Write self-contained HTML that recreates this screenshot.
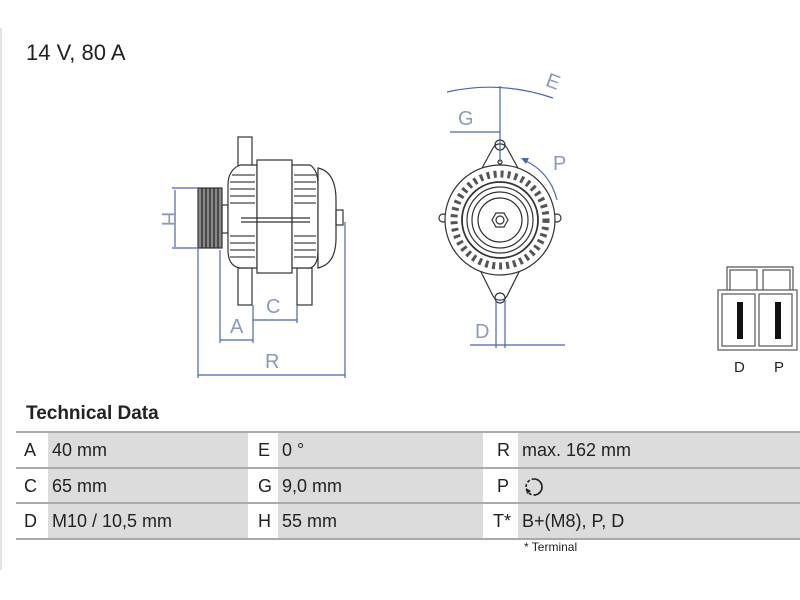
<!DOCTYPE html>
<html><head><meta charset="utf-8"><style>
body{margin:0;background:#fff;width:800px;height:600px;overflow:hidden;position:relative;font-family:"Liberation Sans",sans-serif;}
.t{position:absolute;color:#222;}
.row{position:absolute;left:16px;width:784px;height:34px;border-top:2px solid #aaa;}
.cell{position:absolute;top:0;height:34px;line-height:34px;font-size:18px;color:#222;}
.g{background:#dcdcdc;}
</style></head><body>
<div style="position:absolute;left:0;top:28px;width:2px;height:542px;background:#e4e4e4"></div>
<div class="t" style="left:26px;top:40px;font-size:22px;">14 V, 80 A</div>
<div class="t" style="left:26px;top:403px;font-size:19px;font-weight:bold;">Technical Data</div>

<div class="row" style="top:431px">
 <div class="cell" style="left:0;width:32px;padding-left:8px">A</div>
 <div class="cell g" style="left:32px;width:200px;padding-left:4px;box-sizing:border-box">40 mm</div>
 <div class="cell" style="left:232px;width:30px;padding-left:10px">E</div>
 <div class="cell g" style="left:262px;width:205px;padding-left:4px;box-sizing:border-box">0 °</div>
 <div class="cell" style="left:467px;width:35px;padding-left:14px">R</div>
 <div class="cell g" style="left:502px;width:282px;padding-left:4px;box-sizing:border-box">max. 162 mm</div>
</div>
<div class="row" style="top:467px">
 <div class="cell" style="left:0;padding-left:8px">C</div>
 <div class="cell g" style="left:32px;width:200px;padding-left:4px;box-sizing:border-box">65 mm</div>
 <div class="cell" style="left:232px;padding-left:10px">G</div>
 <div class="cell g" style="left:262px;width:205px;padding-left:4px;box-sizing:border-box">9,0 mm</div>
 <div class="cell" style="left:467px;padding-left:14px">P</div>
 <div class="cell g" style="left:502px;width:282px;padding-left:4px;box-sizing:border-box"><svg width="24" height="24" style="vertical-align:middle" viewBox="0 0 24 24"><circle cx="12" cy="12" r="8" fill="none" stroke="#222" stroke-width="1.6" stroke-dasharray="3 2"/><path d="M12 4 A8 8 0 0 1 12 20" fill="none" stroke="#222" stroke-width="1.6"/><path d="M4 13 L9 16 L5 19 Z" fill="#222"/></svg></div>
</div>
<div class="row" style="top:502px;border-bottom:2px solid #aaa">
 <div class="cell" style="left:0;padding-left:8px">D</div>
 <div class="cell g" style="left:32px;width:200px;padding-left:4px;box-sizing:border-box">M10 / 10,5 mm</div>
 <div class="cell" style="left:232px;padding-left:10px">H</div>
 <div class="cell g" style="left:262px;width:205px;padding-left:4px;box-sizing:border-box">55 mm</div>
 <div class="cell" style="left:467px;padding-left:10px">T*</div>
 <div class="cell g" style="left:502px;width:282px;padding-left:4px;box-sizing:border-box">B+(M8), P, D</div>
</div>
<div class="t" style="left:524px;top:540px;font-size:12px;">* Terminal</div>

<svg width="800" height="400" style="position:absolute;left:0;top:0" viewBox="0 0 800 400">
<g fill="none" stroke="#333" stroke-width="1.2">
 <rect x="198" y="188" width="24" height="60" fill="#888"/>
 <g stroke="#222"><line x1="202" y1="188" x2="202" y2="248"/><line x1="206" y1="188" x2="206" y2="248"/><line x1="210" y1="188" x2="210" y2="248"/><line x1="214" y1="188" x2="214" y2="248"/><line x1="218" y1="188" x2="218" y2="248"/></g>
 <rect x="222" y="205" width="6" height="28"/>
 <rect x="238" y="137" width="14" height="30" fill="#fff"/>
 <rect x="238" y="268" width="14" height="37" fill="#fff"/>
 <rect x="297" y="268" width="15" height="37" fill="#fff"/>
 <path d="M257 165 L240 165 Q228 170 228 185 L228 250 Q228 266 240 268 L257 268 Z" fill="#fff"/>
 <rect x="257" y="160" width="35" height="113" fill="#fff"/>
 <path d="M292 165 L310 165 Q318 170 318 185 L318 250 Q318 266 310 268 L292 268 Z" fill="#fff"/>
 <path d="M318 168 Q336 172 336 200 L336 238 Q336 264 318 268 Z" fill="#fff"/>
 <rect x="336" y="210" width="7" height="15"/>
 <line x1="241" y1="218" x2="310" y2="218"/><line x1="241" y1="222" x2="310" y2="222"/>
 <g stroke="#444">
  <line x1="232" y1="175" x2="255" y2="175"/><line x1="230" y1="182" x2="255" y2="182"/><line x1="230" y1="189" x2="255" y2="189"/><line x1="230" y1="196" x2="255" y2="196"/><line x1="230" y1="203" x2="255" y2="203"/>
  <line x1="230" y1="236" x2="255" y2="236"/><line x1="230" y1="243" x2="255" y2="243"/><line x1="230" y1="250" x2="255" y2="250"/><line x1="230" y1="257" x2="255" y2="257"/>
  <line x1="294" y1="175" x2="316" y2="175"/><line x1="294" y1="182" x2="316" y2="182"/><line x1="294" y1="189" x2="316" y2="189"/><line x1="294" y1="196" x2="316" y2="196"/><line x1="294" y1="203" x2="316" y2="203"/>
  <line x1="294" y1="236" x2="316" y2="236"/><line x1="294" y1="243" x2="316" y2="243"/><line x1="294" y1="250" x2="316" y2="250"/><line x1="294" y1="257" x2="316" y2="257"/>
 </g>
 <path d="M470 190 L493 148 A8 8 0 0 1 507 148 L530 190 Z" fill="#fff"/>
 <path d="M470 250 L493 296 A8 8 0 0 0 507 296 L530 250 Z" fill="#fff"/>
 <circle cx="443" cy="218" r="4" fill="#fff"/><circle cx="557" cy="218" r="4" fill="#fff"/>
 <circle cx="500" cy="220" r="55" fill="#fff"/>
 <circle cx="500" cy="220" r="46" stroke-dasharray="3 4" stroke-width="7" stroke="#555"/>
 <circle cx="500" cy="220" r="38" stroke-width="1.8"/>
 <circle cx="500" cy="220" r="33"/>
 <circle cx="500" cy="220" r="28"/>
 <circle cx="500" cy="220" r="22"/>
 <polygon points="508,220 504,227 496,227 492,220 496,213 504,213"/>
 <circle cx="500" cy="220" r="4"/>
 <circle cx="500" cy="145" r="5"/><circle cx="500" cy="162" r="2"/>
 <circle cx="500" cy="298" r="5"/>
 <path d="M727 290 L727 267 L793 267 L793 290 M730 290 L730 270 L757 270 L757 290 M763 290 L763 270 L790 270 L790 290" stroke="#555"/>
 <rect x="718" y="290" width="79" height="60" stroke="#555"/>
 <rect x="722" y="294" width="33" height="52" stroke="#555"/>
 <rect x="759" y="294" width="33" height="52" stroke="#555"/>
</g>
<rect x="737" y="302" width="6" height="37" fill="#111"/>
<rect x="775" y="302" width="6" height="37" fill="#111"/>
<g fill="none" stroke="#4a66b0" stroke-width="1.2">
 <line x1="175" y1="190" x2="175" y2="247"/><line x1="172" y1="188" x2="198" y2="188"/><line x1="172" y1="248" x2="198" y2="248"/>
 <line x1="220" y1="250" x2="220" y2="343"/><line x1="253" y1="305" x2="253" y2="343"/><line x1="220" y1="340" x2="253" y2="340"/>
 <line x1="297" y1="305" x2="297" y2="323"/><line x1="253" y1="320" x2="297" y2="320"/>
 <line x1="198" y1="248" x2="198" y2="378"/><line x1="345" y1="222" x2="345" y2="378"/><line x1="198" y1="375" x2="345" y2="375"/>
 <path d="M447 92 Q500 80 553 98"/>
 <line x1="500" y1="86" x2="500" y2="162"/>
 <line x1="450" y1="132" x2="500" y2="132"/>
 <path d="M524 160 Q550 172 557 200"/>
 <line x1="496" y1="300" x2="496" y2="348"/><line x1="505" y1="300" x2="505" y2="348"/>
 <line x1="470" y1="345" x2="565" y2="345"/>
</g>
<path d="M521 158 L529 158 L526 164 Z" fill="#4a66b0"/>
<g font-family="Liberation Sans, sans-serif" font-size="20" fill="#8a9ab8">
 <text x="162" y="219" transform="rotate(90 162 219)" text-anchor="middle">H</text>
 <text x="230" y="333">A</text>
 <text x="266" y="313">C</text>
 <text x="265" y="368">R</text>
 <text x="458" y="125">G</text>
 <text x="547" y="88" transform="rotate(20 553 80)">E</text>
 <text x="553" y="170">P</text>
 <text x="475" y="338">D</text>
</g>
<g font-family="Liberation Sans, sans-serif" font-size="15" fill="#222">
 <text x="734" y="372">D</text><text x="774" y="372">P</text>
</g>
</svg>
</body></html>
